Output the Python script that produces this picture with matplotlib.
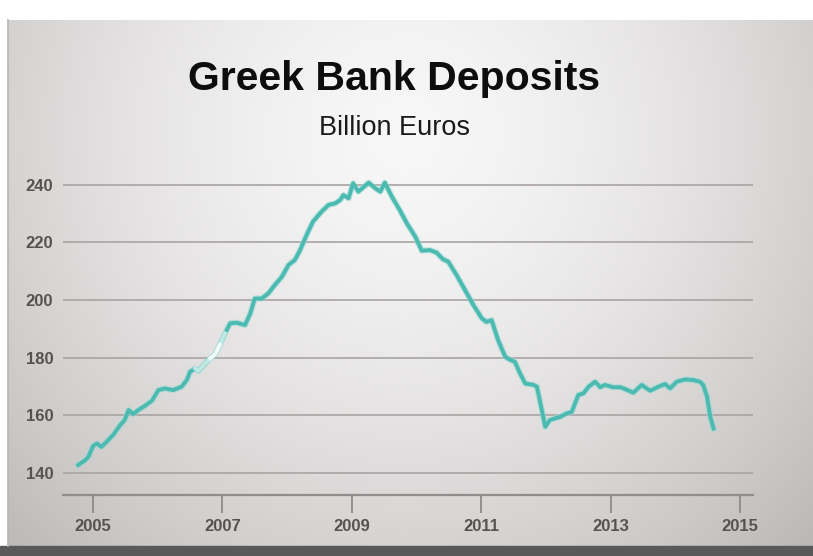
import numpy as np
import matplotlib
matplotlib.use('Agg')
import matplotlib.pyplot as plt
import matplotlib.patheffects as pe

# Greek bank deposits, billion euros (monthly readings)
years = [
    2004.77, 2004.88, 2004.93, 2005.00, 2005.06, 2005.13, 2005.21, 2005.31, 2005.42, 2005.49,
    2005.55, 2005.62, 2005.70, 2005.80, 2005.91, 2006.01, 2006.11, 2006.24, 2006.37, 2006.45,
    2006.50, 2006.58, 2006.63, 2006.71, 2006.81, 2006.89, 2006.96, 2007.04, 2007.12, 2007.22,
    2007.35, 2007.43, 2007.50, 2007.61, 2007.71, 2007.81, 2007.92, 2008.02, 2008.12, 2008.20,
    2008.30, 2008.40, 2008.53, 2008.64, 2008.74, 2008.82, 2008.87, 2008.95, 2009.02, 2009.10,
    2009.26, 2009.36, 2009.44, 2009.51, 2009.62, 2009.74, 2009.85, 2009.98, 2010.08, 2010.21,
    2010.31, 2010.41, 2010.49, 2010.62, 2010.75, 2010.88, 2011.01, 2011.08, 2011.16, 2011.26,
    2011.37, 2011.44, 2011.52, 2011.60, 2011.68, 2011.81, 2011.86, 2011.99, 2012.06, 2012.14,
    2012.22, 2012.30, 2012.40, 2012.50, 2012.58, 2012.66, 2012.76, 2012.84, 2012.91, 2013.04,
    2013.15, 2013.20, 2013.35, 2013.48, 2013.61, 2013.74, 2013.84, 2013.92, 2014.02, 2014.15,
    2014.28, 2014.38, 2014.43, 2014.49, 2014.54, 2014.59,
]
deposits = [
    142.7, 144.4, 145.6, 149.3, 150.2, 149.0, 150.8, 153.1, 156.6, 158.3,
    161.8, 160.4, 161.8, 163.2, 165.0, 168.7, 169.3, 168.7, 169.9, 172.2,
    175.1, 176.2, 175.4, 177.4, 179.7, 181.2, 184.5, 188.4, 191.9, 192.1,
    191.3, 195.3, 200.5, 200.5, 202.3, 205.2, 208.1, 212.1, 213.9, 217.3,
    222.5, 227.2, 230.6, 233.0, 233.5, 234.7, 236.4, 235.3, 240.5, 237.6,
    240.7, 238.8, 237.6, 240.7, 235.8, 231.2, 226.6, 222.0, 217.1, 217.3,
    216.4, 214.1, 213.3, 208.6, 203.4, 198.2, 193.6, 192.4, 193.0, 186.1,
    180.3, 179.3, 178.5, 174.5, 171.0, 170.5, 169.9, 156.0, 158.3, 158.9,
    159.4, 160.4, 161.2, 167.0, 167.6, 169.9, 171.6, 169.7, 170.5, 169.7,
    169.7, 169.3, 167.8, 170.5, 168.5, 169.9, 170.8, 169.3, 171.6, 172.4,
    172.2, 171.6, 170.5, 166.4, 159.4, 155.4,
]
year_ticks = [2005, 2007, 2009, 2011, 2013, 2015]
value_ticks = [140, 160, 180, 200, 220, 240]

W, H = 813, 556
fig = plt.figure(figsize=(W / 100, H / 100), dpi=100, facecolor='white')

# backdrop: grey board with a soft bright spot behind the title
bg = fig.add_axes([0, 0, 1, 1], zorder=-2)
bg.set_xlim(0, W)
bg.set_ylim(H, 0)
bg.axis('off')
gx, gy = np.meshgrid(np.arange(W), np.arange(H))
d = np.sqrt(((gx - 400) / 520.0) ** 2 + ((gy - 120) / 560.0) ** 2)
b = np.clip(0.97 - 0.2 * d ** 1.6, 0, 1)
rgb = np.dstack([b, b - 0.06 * (1 - b), b - 0.08 * (1 - b)])
bg.imshow(rgb, extent=(8, W, 548, 20), aspect='auto', interpolation='bilinear')
bg.add_patch(plt.Rectangle((0, 546), W, 10, color='#595959'))
bg.plot([8, 8], [20, 546], color='#b8b4b3', lw=1.2)

ax = fig.add_axes([63 / W, 61 / H, 690 / W, 324.7 / H], facecolor='none')
ax.set_xlim(2004.536, 2015.20)
ax.set_ylim(132.3, 245)

for v in value_ticks:
    ax.axhline(v, color='#a9a4a3', lw=1.2, zorder=1)

ax.plot(years, deposits, color='#4bbab1', lw=2.8, zorder=3,
        solid_joinstyle='round',
        path_effects=[pe.Stroke(linewidth=4.4, foreground='#9ad9d2', alpha=0.6), pe.Normal()])

# glare on the rising leg
yrs = np.array(years)
dep = np.array(deposits)
m = (yrs >= 2006.55) & (yrs <= 2007.06)
ax.plot(yrs[m], dep[m], color='#bfe9e4', lw=2.8, zorder=4, solid_joinstyle='round')
m2 = (yrs >= 2006.78) & (yrs <= 2006.97)
ax.plot(yrs[m2], dep[m2], color='#f1fbfa', lw=2.8, zorder=5, solid_joinstyle='round')

for s in ['top', 'right', 'left']:
    ax.spines[s].set_visible(False)
ax.spines['bottom'].set_color('#928d8c')
ax.spines['bottom'].set_linewidth(1.6)

ax.set_xticks(year_ticks)
ax.set_xticklabels([str(y) for y in year_ticks])
ax.set_yticks(value_ticks)
ax.set_yticklabels([str(v) for v in value_ticks])
ax.tick_params(axis='x', direction='out', length=13, width=1.2, color='#8a8584',
               pad=4, labelsize=12, labelcolor='#575252')
ax.tick_params(axis='y', length=0, pad=7, labelsize=12, labelcolor='#575252')
for lab in ax.get_xticklabels() + ax.get_yticklabels():
    lab.set_fontfamily('Liberation Sans')
    lab.set_fontweight('bold')

fig.text(394 / W, 1 - 79 / H, 'Greek Bank Deposits', ha='center', va='center',
         fontsize=29.5, fontweight='bold', family='Liberation Sans', color='#0d0d0d')
fig.text(394 / W, 1 - 128 / H, 'Billion Euros', ha='center', va='center',
         fontsize=19.5, family='Liberation Sans', color='#1a1a1a')

fig.savefig('out.png', dpi=100, facecolor='white')
